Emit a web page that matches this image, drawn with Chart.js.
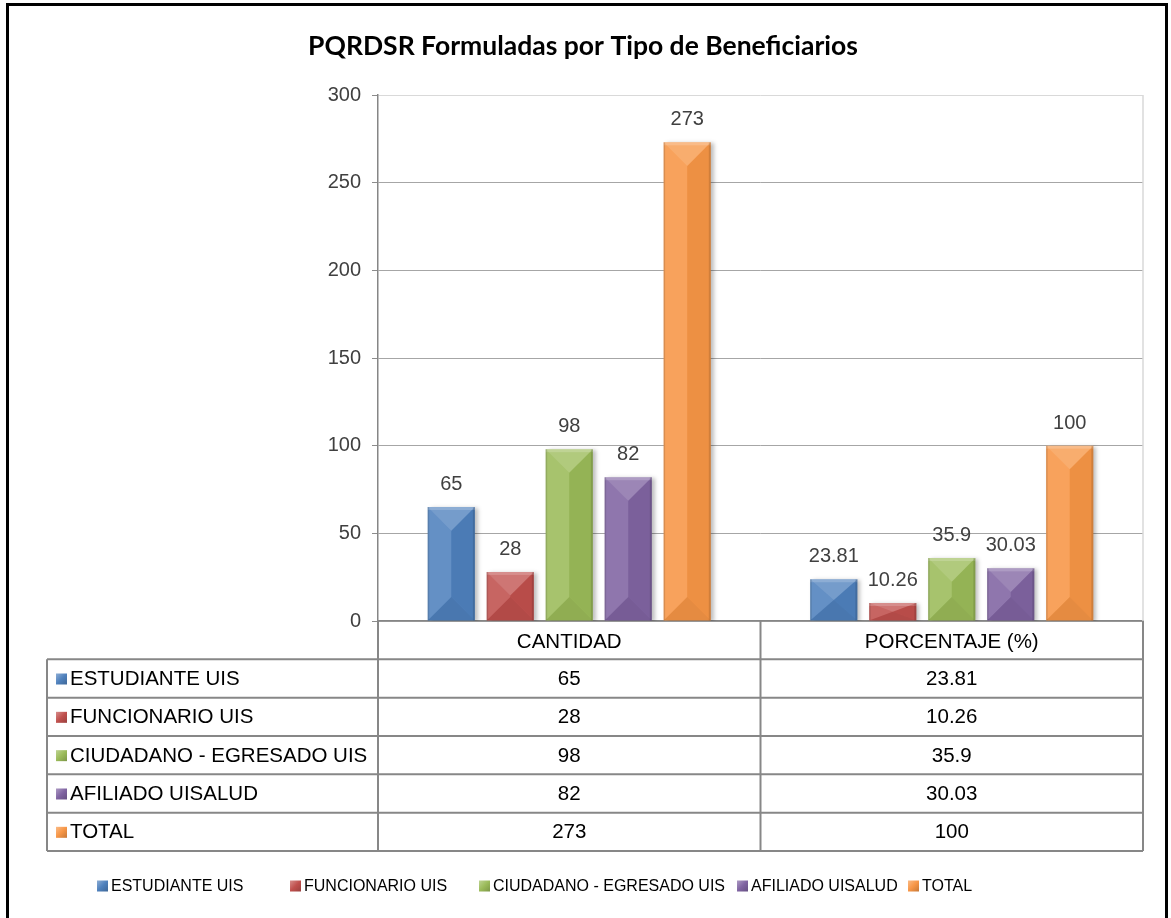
<!DOCTYPE html>
<html><head><meta charset="utf-8">
<script src="https://cdn.jsdelivr.net/npm/chart.js@4.4.1/dist/chart.umd.min.js"></script>
<style>html,body{margin:0;padding:0;background:#fff;} #wrap{width:1171px;height:918px;}</style>
</head><body><div id="wrap"><canvas id="c" width="1171" height="918"></canvas></div>
<script>
const titleText = 'PQRDSR Formuladas por Tipo de Beneficiarios';
const categories = ['CANTIDAD', 'PORCENTAJE (%)'];
const seriesNames = ['ESTUDIANTE UIS', 'FUNCIONARIO UIS', 'CIUDADANO - EGRESADO UIS', 'AFILIADO UISALUD', 'TOTAL'];
const cantidad = [65, 28, 98, 82, 273];
const porcentaje = [23.81, 10.26, 35.9, 30.03, 100];
const seriesColors = ['#4F81BD', '#C0504D', '#9BBB59', '#8064A2', '#F79646'];
const yTicks = [0, 50, 100, 150, 200, 250, 300];

const FONT = "'Liberation Sans', Arial, sans-serif";
const LEGEND_X = [97, 290, 479, 737, 908];

function mix(hex, t) {
  const n = parseInt(hex.slice(1), 16);
  let r = (n >> 16) & 255, g = (n >> 8) & 255, b = n & 255;
  const tgt = t > 0 ? 255 : 0, k = Math.abs(t);
  r = Math.round(r + (tgt - r) * k); g = Math.round(g + (tgt - g) * k); b = Math.round(b + (tgt - b) * k);
  return `rgb(${r},${g},${b})`;
}
function marker(ctx, x, y, s, color) {
  const g = ctx.createLinearGradient(x, y, x + s, y + s);
  g.addColorStop(0, mix(color, 0.35));
  g.addColorStop(0.5, color);
  g.addColorStop(1, mix(color, -0.2));
  ctx.fillStyle = g;
  ctx.fillRect(x, y, s, s);
}
function poly(ctx, pts, fill) {
  ctx.beginPath(); ctx.moveTo(pts[0][0], pts[0][1]);
  for (let i = 1; i < pts.length; i++) ctx.lineTo(pts[i][0], pts[i][1]);
  ctx.closePath(); ctx.fillStyle = fill; ctx.fill();
}
function line(ctx, x1, y1, x2, y2) { ctx.beginPath(); ctx.moveTo(x1, y1); ctx.lineTo(x2, y2); ctx.stroke(); }

const datasets = seriesNames.map((name, i) => ({
  label: name,
  data: [cantidad[i], porcentaje[i]],
  backgroundColor: seriesColors[i],
  borderWidth: 0,
  categoryPercentage: 0.771,
  barPercentage: 0.8
}));

const deco = {
  id: 'deco',
  beforeDraw(chart) {
    const ctx = chart.ctx; ctx.save(); ctx.fillStyle = '#fff'; ctx.fillRect(0, 0, chart.width, chart.height); ctx.restore();
  },
  beforeDatasetsDraw(chart) {
    const ctx = chart.ctx; ctx.save();
    ctx.shadowColor = 'rgba(0,0,0,0.25)'; ctx.shadowOffsetX = 3; ctx.shadowOffsetY = 1; ctx.shadowBlur = 4;
  },
  afterDatasetsDraw(chart) {
    const ctx = chart.ctx; ctx.restore();
    ctx.save();
    chart.data.datasets.forEach((ds, di) => {
      const meta = chart.getDatasetMeta(di);
      meta.data.forEach((el, j) => {
        const p = el.getProps(['x', 'y', 'base', 'width'], true);
        const l = p.x - p.width / 2, r = p.x + p.width / 2, t = p.y, b = p.base;
        const d = Math.min(p.width / 2, (b - t) / 2);
        poly(ctx, [[l, t], [p.x, t + d], [p.x, b - d], [l, b]], 'rgba(255,255,255,0.12)');
        poly(ctx, [[r, t], [p.x, t + d], [p.x, b - d], [r, b]], 'rgba(0,0,0,0.04)');
        poly(ctx, [[l, t], [r, t], [p.x, t + d]], 'rgba(255,255,255,0.22)');
        poly(ctx, [[l, b], [r, b], [p.x, b - d]], 'rgba(0,0,0,0.07)');
        ctx.fillStyle = 'rgba(255,255,255,0.18)'; ctx.fillRect(l, t, p.width, 3);
        ctx.fillStyle = 'rgba(0,0,0,0.12)'; ctx.fillRect(r - 2, t, 2, b - t);
        ctx.fillRect(l, t, 1.5, b - t);
        ctx.fillStyle = '#404040';
        ctx.font = '20px ' + FONT;
        ctx.textAlign = 'center'; ctx.textBaseline = 'alphabetic';
        ctx.fillText(String(ds.data[j]), p.x, t - 17);
      });
    });
    ctx.restore();
  },
  afterDraw(chart) {
    const ctx = chart.ctx, a = chart.chartArea, xs = chart.scales.x;
    ctx.save();
    ctx.strokeStyle = '#D9D9D9'; ctx.lineWidth = 1.5;
    line(ctx, a.right, a.top, a.right, a.bottom);
    const rowH = 38.33, top = a.bottom, left = 47;
    const c0 = xs.getPixelForValue(0), c1 = xs.getPixelForValue(1);
    const mid = (c0 + c1) / 2;
    ctx.strokeStyle = '#878787'; ctx.lineWidth = 2;
    line(ctx, a.left, top, a.left, top + 6 * rowH);
    line(ctx, mid, top, mid, top + 6 * rowH);
    line(ctx, a.right, top, a.right, top + 6 * rowH);
    line(ctx, left, top + rowH, left, top + 6 * rowH);
    for (let k = 1; k <= 6; k++) line(ctx, left, top + k * rowH, a.right, top + k * rowH);
    ctx.fillStyle = '#000';
    ctx.font = '20.5px ' + FONT;
    ctx.textBaseline = 'middle'; ctx.textAlign = 'center';
    ctx.fillText(categories[0], c0, top + rowH / 2 + 2);
    ctx.fillText(categories[1], c1, top + rowH / 2 + 2);
    seriesNames.forEach((name, i) => {
      const cy = top + rowH * (i + 1.5) + 1;
      marker(ctx, left + 9, cy - 6, 11, seriesColors[i]);
      ctx.fillStyle = '#000';
      ctx.textAlign = 'left';
      ctx.fillText(name, left + 23, cy);
      ctx.textAlign = 'center';
      ctx.fillText(String(cantidad[i]), c0, cy);
      ctx.fillText(String(porcentaje[i]), c1, cy);
    });
    ctx.font = '16px ' + FONT;
    ctx.textAlign = 'left';
    seriesNames.forEach((name, i) => {
      const x = LEGEND_X[i], cy = 886;
      marker(ctx, x, cy - 5.5, 11, seriesColors[i]);
      ctx.fillStyle = '#000';
      ctx.fillText(name, x + 14, cy + 1);
    });
    ctx.strokeStyle = '#000'; ctx.lineWidth = 3;
    ctx.beginPath(); ctx.moveTo(7.5, 930); ctx.lineTo(7.5, 4.5); ctx.lineTo(1166.5, 4.5); ctx.lineTo(1166.5, 930); ctx.stroke();
    ctx.restore();
  }
};

new Chart(document.getElementById('c'), {
  type: 'bar',
  data: { labels: categories, datasets },
  options: {
    responsive: false,
    animation: false,
    devicePixelRatio: 1,
    layout: { padding: { left: 23, right: 28, top: 0, bottom: 0 } },
    plugins: {
      legend: { display: false },
      tooltip: { enabled: false },
      title: {
        display: true, text: titleText, color: '#000',
        font: { family: 'Lato', size: 26.5, weight: 'bold', lineHeight: 1.2 },
        padding: { top: 31, bottom: 32.2 }
      }
    },
    scales: {
      x: {
        ticks: { display: false },
        grid: { display: false, drawTicks: false },
        border: { display: true, color: '#868686', width: 1.5 },
        afterFit(s) { s.height = 297; }
      },
      y: {
        min: 0, max: 300,
        afterBuildTicks(s) { s.ticks = yTicks.map(v => ({ value: v })); },
        ticks: { font: { family: FONT, size: 20 }, color: '#404040', padding: 11 },
        grid: {
          color: c => (c.tick && c.tick.value === 300) ? '#D9D9D9' : '#A6A6A6',
          tickColor: '#8C8C8C', tickLength: 6, lineWidth: 1
        },
        border: { color: '#868686', width: 1.5 },
        afterFit(s) { s.width = 355; }
      }
    }
  },
  plugins: [deco]
});
</script></body></html>
